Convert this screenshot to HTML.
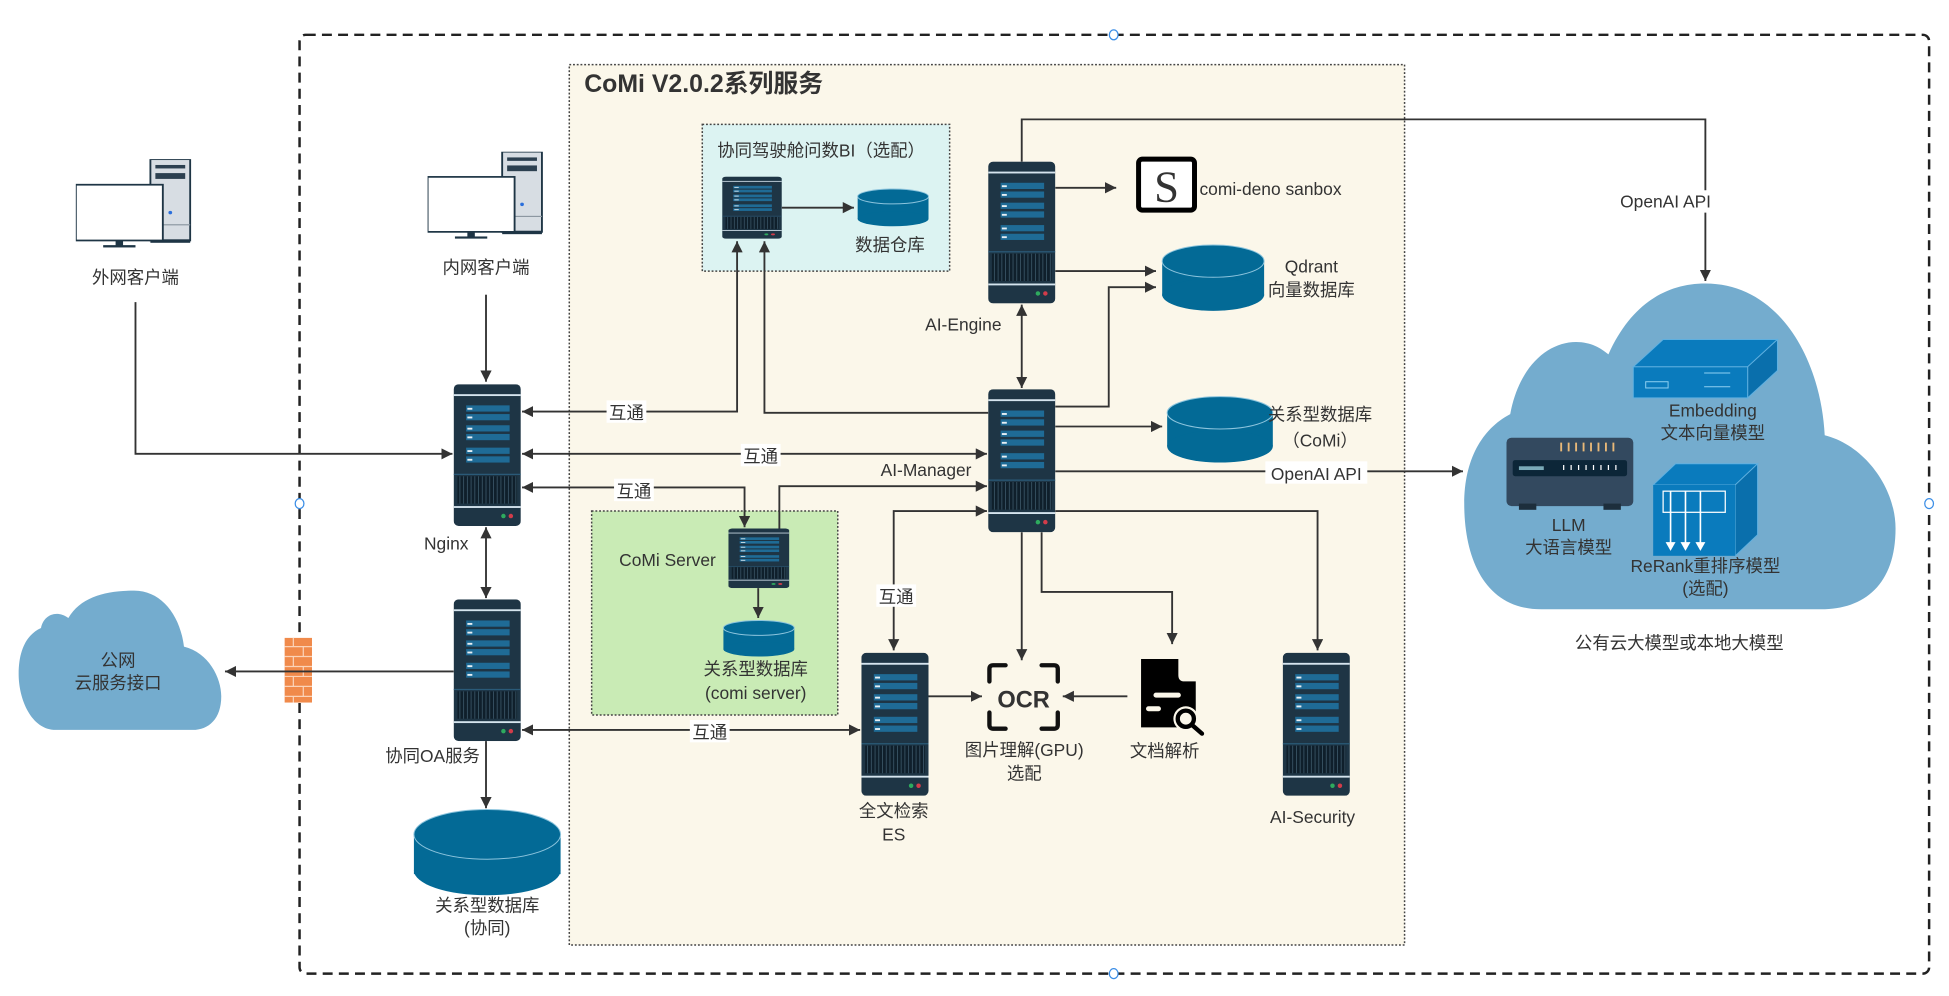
<!DOCTYPE html>
<html><head><meta charset="utf-8">
<style>
html,body{margin:0;padding:0;background:#fff;}
svg{display:block;}
text{font-family:"Liberation Sans","Noto Sans CJK SC",sans-serif;fill:#333;}
</style></head>
<body>
<svg width="1949" height="996" viewBox="0 0 1568 801" preserveAspectRatio="none" xmlns="http://www.w3.org/2000/svg">
<defs>
<symbol id="srv" viewBox="0 0 54 114" preserveAspectRatio="none">
<rect x="0" y="0" width="54" height="114" rx="4" fill="#1e3545"/>
<rect x="0" y="8" width="54" height="1.5" fill="#d5e4ee"/>
<g fill="#1f6b96">
<rect x="10" y="17" width="35" height="5"/><rect x="10" y="24" width="35" height="5"/>
<rect x="10" y="33" width="35" height="5"/><rect x="10" y="40" width="35" height="5"/>
<rect x="10" y="51" width="35" height="5"/><rect x="10" y="58" width="35" height="5"/>
</g>
<g fill="#e8f0f5">
<rect x="11" y="19" width="4" height="1.5"/><rect x="11" y="26" width="4" height="1.5"/>
<rect x="11" y="35" width="4" height="1.5"/><rect x="11" y="42" width="4" height="1.5"/>
<rect x="11" y="53" width="4" height="1.5"/><rect x="11" y="60" width="4" height="1.5"/>
</g>
<rect x="0" y="72" width="54" height="1" fill="#2a5a78"/>
<rect x="3" y="74" width="48" height="22" fill="#0f1f2b"/>
<g stroke="#3a5566" stroke-width="0.7">
<path d="M5 74V96M8 74V96M11 74V96M14 74V96M17 74V96M20 74V96M23 74V96M26 74V96M29 74V96M32 74V96M35 74V96M38 74V96M41 74V96M44 74V96M47 74V96M50 74V96"/>
</g>
<rect x="0" y="98" width="54" height="1.5" fill="#d5e4ee"/>
<circle cx="40" cy="106" r="1.8" fill="#2eaa5e"/><circle cx="46" cy="106" r="1.8" fill="#d23c4a"/>
</symbol>
<symbol id="pc" viewBox="0 0 93 76" preserveAspectRatio="none">
<rect x="60" y="0" width="32" height="70" fill="#d7dde3" stroke="#1e3545" stroke-width="1.5"/>
<rect x="64" y="5" width="24" height="3" fill="#2c4050"/>
<rect x="64" y="12" width="24" height="5" fill="#2c4050"/>
<rect x="60" y="56" width="32" height="1" fill="#8a96a0"/>
<rect x="60" y="69" width="32" height="3" fill="#1e3545"/>
<circle cx="76" cy="46" r="1.5" fill="#2a6fdc"/>
<rect x="0" y="24" width="70" height="48" fill="#fff" stroke="#1e3545" stroke-width="1.5" transform="translate(0,-2)"/>
<rect x="32" y="70" width="6" height="5" fill="#1e3545"/>
<rect x="22" y="74" width="26" height="2" fill="#1e3545"/>
</symbol>
<marker id="ah" viewBox="0 0 10 10" refX="10" refY="5" markerWidth="9" markerHeight="9" markerUnits="userSpaceOnUse" orient="auto-start-reverse">
<path d="M0,0L10,5L0,10Z" fill="#333"/>
</marker>
</defs>

<rect x="241" y="28" width="1311" height="755" rx="5" fill="none" stroke="#222" stroke-width="2" stroke-dasharray="8,5"/>
<g fill="#fff" stroke="#3a8de6" stroke-width="1">
<ellipse cx="896" cy="28" rx="3.5" ry="4"/><ellipse cx="241" cy="405" rx="3.5" ry="4"/>
<ellipse cx="1552" cy="405" rx="3.5" ry="4"/><ellipse cx="896" cy="783" rx="3.5" ry="4"/>
</g>

<rect x="458" y="52" width="672" height="708" fill="#fbf7ea" stroke="#444" stroke-width="1.2" stroke-dasharray="1.5,1.5"/>
<text x="470" y="74" font-size="20" font-weight="bold" fill="#333">CoMi V2.0.2系列服务</text>

<rect x="565" y="100" width="199" height="118" fill="#dcf3f2" stroke="#444" stroke-width="1.2" stroke-dasharray="1.5,1.5"/>
<text x="577" y="126" font-size="14">协同驾驶舱问数BI（选配）</text>
<use href="#srv" x="581" y="142" width="48" height="50"/>
<g>
<rect x="690" y="158" width="57" height="18" fill="#036a96"/>
<ellipse cx="718.5" cy="176" rx="28.5" ry="6" fill="#036a96"/>
<ellipse cx="718.5" cy="158" rx="28.5" ry="6" fill="#036a96" stroke="#8cc4dd" stroke-width="0.8"/>
</g>
<text x="716" y="202" font-size="14" text-anchor="middle">数据仓库</text>

<rect x="476" y="411" width="198" height="164" fill="#c9ebb5" stroke="#444" stroke-width="1.2" stroke-dasharray="1.5,1.5"/>
<use href="#srv" x="586" y="425" width="49" height="48"/>
<text x="537" y="455" font-size="14" text-anchor="middle">CoMi Server</text>
<g>
<rect x="582" y="505" width="57" height="17" fill="#036a96"/>
<ellipse cx="610.5" cy="522" rx="28.5" ry="6" fill="#036a96"/>
<ellipse cx="610.5" cy="505" rx="28.5" ry="6" fill="#036a96" stroke="#8cc4dd" stroke-width="0.8"/>
</g>
<text x="608" y="543" font-size="14" text-anchor="middle">关系型数据库</text>
<text x="608" y="562" font-size="14" text-anchor="middle">(comi server)</text>

<use href="#pc" x="61" y="128" width="93" height="71"/>
<text x="109" y="228" font-size="14" text-anchor="middle">外网客户端</text>
<use href="#pc" x="344" y="122" width="93" height="70"/>
<text x="391" y="220" font-size="14" text-anchor="middle">内网客户端</text>

<use href="#srv" x="365" y="309" width="54" height="114"/>
<text x="359" y="442" font-size="14" text-anchor="middle">Nginx</text>
<use href="#srv" x="365" y="482" width="54" height="114"/>
<text x="348" y="613" font-size="14" text-anchor="middle">协同OA服务</text>

<g>
<rect x="333" y="670" width="118" height="33" fill="#036a96"/>
<ellipse cx="392" cy="700" rx="59" ry="20" fill="#036a96"/>
<ellipse cx="392" cy="671" rx="59" ry="20" fill="#036a96" stroke="#8cc4dd" stroke-width="0.8"/>
</g>
<text x="392" y="733" font-size="14" text-anchor="middle">关系型数据库</text>
<text x="392" y="751" font-size="14" text-anchor="middle">(协同)</text>

<path d="M45,587 C25,587 15,562 15,542 C15,522 22,510 33,505 C35,495 45,490 55,497 C65,480 85,475 108,475 C130,475 145,495 148,520 C168,525 178,545 178,560 C178,578 168,587 155,587 Z" fill="#74acce"/>
<text x="95" y="536" font-size="14" text-anchor="middle">公网</text>
<text x="95" y="554" font-size="14" text-anchor="middle">云服务接口</text>

<rect x="229" y="513" width="22" height="52" fill="#f08a4b"/>
<g stroke="#fbd3b8" stroke-width="1">
<path d="M229,520H251M229,528H251M229,536H251M229,544H251M229,552H251M229,560H251"/>
<path d="M236,513V520M244,520V528M236,528V536M244,536V544M236,544V552M244,552V560M236,560V565"/>
</g>

<use href="#srv" x="795" y="130" width="54" height="114"/>
<text x="775" y="266" font-size="14" text-anchor="middle">AI-Engine</text>
<rect x="916" y="128" width="45" height="41" rx="3" fill="#fff" stroke="#000" stroke-width="4"/>
<text x="938.5" y="162" font-size="36" text-anchor="middle" fill="#000" style="font-family:'Liberation Serif',serif">S</text>
<text x="965" y="157" font-size="14">comi-deno sanbox</text>
<g>
<rect x="935" y="210" width="82" height="28" fill="#036a96"/>
<ellipse cx="976" cy="237" rx="41" ry="13" fill="#036a96"/>
<ellipse cx="976" cy="210" rx="41" ry="13" fill="#036a96" stroke="#8cc4dd" stroke-width="0.8"/>
</g>
<text x="1055" y="219" font-size="14" text-anchor="middle">Qdrant</text>
<text x="1055" y="238" font-size="14" text-anchor="middle">向量数据库</text>

<use href="#srv" x="795" y="313" width="54" height="115"/>
<text x="745" y="383" font-size="14" text-anchor="middle">AI-Manager</text>
<g>
<rect x="939" y="332" width="85" height="27" fill="#036a96"/>
<ellipse cx="981.5" cy="359" rx="42.5" ry="13" fill="#036a96"/>
<ellipse cx="981.5" cy="332" rx="42.5" ry="13" fill="#036a96" stroke="#8cc4dd" stroke-width="0.8"/>
</g>
<text x="1062" y="338" font-size="14" text-anchor="middle">关系型数据库</text>
<text x="1062" y="359" font-size="14" text-anchor="middle">（CoMi）</text>

<use href="#srv" x="693" y="525" width="54" height="115"/>
<text x="719" y="657" font-size="14" text-anchor="middle">全文检索</text>
<text x="719" y="676" font-size="14" text-anchor="middle">ES</text>

<g fill="none" stroke="#111" stroke-width="3.5" stroke-linecap="round">
<path d="M796,548V538Q796,535 799,535H809"/>
<path d="M838,535H848Q851,535 851,538V548"/>
<path d="M796,573V583Q796,586 799,586H809"/>
<path d="M838,586H848Q851,586 851,583V573"/>
</g>
<text x="823.5" y="569" font-size="19" font-weight="bold" text-anchor="middle" fill="#111">OCR</text>
<text x="824" y="608" font-size="14" text-anchor="middle">图片理解(GPU)</text>
<text x="824" y="627" font-size="14" text-anchor="middle">选配</text>

<path d="M918,530H948V543Q948,548 953,548H962V585H918Z" fill="#000"/>
<rect x="928" y="557" width="22" height="4" rx="2" fill="#fbf7ea"/>
<rect x="922" y="568" width="12" height="4" rx="2" fill="#fbf7ea"/>
<circle cx="954" cy="578" r="10" fill="#fbf7ea"/>
<circle cx="954" cy="578" r="6.5" fill="none" stroke="#000" stroke-width="3.5"/>
<path d="M959,583L967,590" stroke="#000" stroke-width="3.5" stroke-linecap="round"/>
<text x="937" y="609" font-size="14" text-anchor="middle">文档解析</text>

<use href="#srv" x="1032" y="525" width="54" height="115"/>
<text x="1056" y="662" font-size="14" text-anchor="middle">AI-Security</text>

<path d="M1240,490 C1195,490 1178,450 1178,405 C1178,370 1192,345 1215,333 C1222,295 1245,275 1268,275 C1280,275 1288,280 1294,285 C1312,245 1340,228 1372,228 C1432,228 1465,290 1468,350 C1500,358 1525,392 1525,425 C1525,470 1500,490 1465,490 Z" fill="#74acce"/>
<path d="M1314,295L1338,273H1430L1406,295Z" fill="#0a7bbd" stroke="#5fb0e0" stroke-width="0.8"/>
<path d="M1406,295L1430,273V298L1406,320Z" fill="#0a6fac" stroke="#5fb0e0" stroke-width="0.8"/>
<rect x="1314" y="295" width="92" height="25" fill="#0a7bbd" stroke="#5fb0e0" stroke-width="0.8"/>
<rect x="1324" y="307" width="18" height="5" fill="none" stroke="#8fd0f2" stroke-width="0.8"/>
<path d="M1371,300H1392M1371,311H1392" stroke="#8fd0f2" stroke-width="0.8"/>
<text x="1378" y="335" font-size="14" text-anchor="middle">Embedding</text>
<text x="1378" y="353" font-size="14" text-anchor="middle">文本向量模型</text>
<rect x="1212" y="352" width="102" height="55" rx="4" fill="#33495f"/>
<rect x="1222" y="405" width="14" height="5" fill="#1d2e3c"/><rect x="1290" y="405" width="14" height="5" fill="#1d2e3c"/>
<g stroke="#e8b878" stroke-width="1.5"><path d="M1256,356V363M1262,356V363M1268,356V363M1274,356V363M1280,356V363M1286,356V363M1292,356V363M1298,356V363"/></g>
<rect x="1217" y="370" width="92" height="13" rx="2" fill="#0c2638"/>
<rect x="1222" y="375" width="20" height="3" fill="#7aaab8"/>
<g stroke="#fff" stroke-width="1"><path d="M1258,374V378M1264,374V378M1270,374V378M1276,374V378M1282,374V378M1288,374V378M1294,374V378M1300,374V378"/></g>
<text x="1262" y="427" font-size="14" text-anchor="middle">LLM</text>
<text x="1262" y="445" font-size="14" text-anchor="middle">大语言模型</text>
<path d="M1330,390L1348,373H1414L1396,390Z" fill="#0a7bbd" stroke="#5fb0e0" stroke-width="0.8"/>
<path d="M1396,390L1414,373V430L1396,447Z" fill="#0a6fac" stroke="#5fb0e0" stroke-width="0.8"/>
<rect x="1330" y="390" width="66" height="57" fill="#0a7bbd"/>
<rect x="1338" y="395" width="50" height="17" fill="none" stroke="#fff" stroke-width="1"/>
<g stroke="#fff" stroke-width="1.3"><path d="M1344,395V438M1356,395V438M1368,395V438"/></g>
<g fill="#fff"><path d="M1340,436H1348L1344,443Z"/><path d="M1352,436H1360L1356,443Z"/><path d="M1364,436H1372L1368,443Z"/></g>
<text x="1372" y="460" font-size="14" text-anchor="middle">ReRank重排序模型</text>
<text x="1372" y="478" font-size="14" text-anchor="middle">(选配)</text>
<text x="1351" y="522" font-size="14" text-anchor="middle">公有云大模型或本地大模型</text>

<g fill="none" stroke="#333" stroke-width="1.5">
<path d="M109,243V365H364" marker-end="url(#ah)"/>
<path d="M391,237V307" marker-end="url(#ah)"/>
<path d="M629,167H687" marker-end="url(#ah)"/>
<path d="M610,473V497" marker-end="url(#ah)"/>
<path d="M593,194V331H420" marker-start="url(#ah)" marker-end="url(#ah)"/>
<path d="M615,194V332H795" marker-start="url(#ah)"/>
<path d="M420,365H794" marker-start="url(#ah)" marker-end="url(#ah)"/>
<path d="M420,392H599V424" marker-start="url(#ah)" marker-end="url(#ah)"/>
<path d="M627,425V391H794" marker-end="url(#ah)"/>
<path d="M719,523V411H794" marker-start="url(#ah)" marker-end="url(#ah)"/>
<path d="M391,424V481" marker-start="url(#ah)" marker-end="url(#ah)"/>
<path d="M365,540H181" marker-end="url(#ah)"/>
<path d="M420,587H692" marker-start="url(#ah)" marker-end="url(#ah)"/>
<path d="M391,596V650" marker-end="url(#ah)"/>
<path d="M822,245V312" marker-start="url(#ah)" marker-end="url(#ah)"/>
<path d="M849,151H898" marker-end="url(#ah)"/>
<path d="M849,218H930" marker-end="url(#ah)"/>
<path d="M849,327H892V231H930" marker-end="url(#ah)"/>
<path d="M822,130V96H1372V226" marker-end="url(#ah)"/>
<path d="M849,343H935" marker-end="url(#ah)"/>
<path d="M849,379H1177" marker-end="url(#ah)"/>
<path d="M849,411H1060V523" marker-end="url(#ah)"/>
<path d="M822,428V531" marker-end="url(#ah)"/>
<path d="M838,428V476H943V518" marker-end="url(#ah)"/>
<path d="M747,560H790" marker-end="url(#ah)"/>
<path d="M907,560H855" marker-end="url(#ah)"/>
</g>

<g font-size="14">
<rect x="488" y="322" width="32" height="18" fill="#fff"/><text x="504" y="337" text-anchor="middle">互通</text>
<rect x="596" y="357" width="32" height="18" fill="#fff"/><text x="612" y="372" text-anchor="middle">互通</text>
<rect x="494" y="385" width="32" height="18" fill="#fff"/><text x="510" y="400" text-anchor="middle">互通</text>
<rect x="705" y="470" width="32" height="18" fill="#fff"/><text x="721" y="485" text-anchor="middle">互通</text>
<rect x="555" y="579" width="32" height="18" fill="#fff"/><text x="571" y="594" text-anchor="middle">互通</text>
<rect x="1018" y="371" width="82" height="18" fill="#fff"/><text x="1059" y="386" text-anchor="middle">OpenAI API</text>
<rect x="1300" y="153" width="80" height="18" fill="#fff"/><text x="1340" y="167" text-anchor="middle">OpenAI API</text>
</g>
</svg>
</body></html>
